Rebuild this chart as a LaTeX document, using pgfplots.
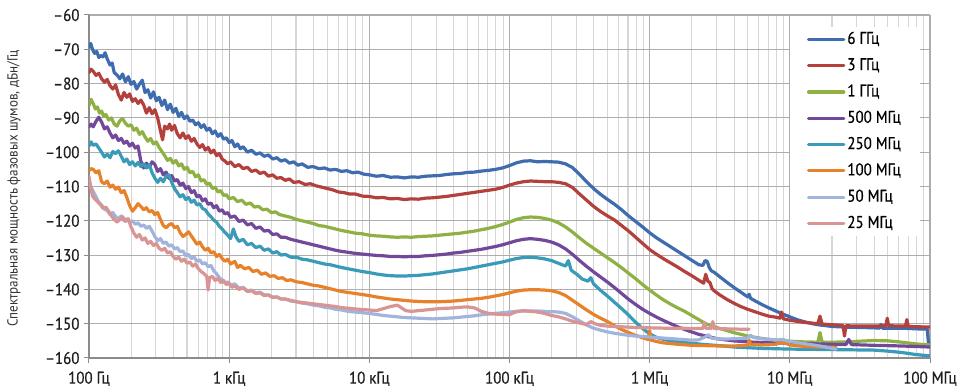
\documentclass[border=0pt]{standalone}
\usepackage{fontspec}
\setmainfont{PT Sans}[FakeStretch=0.9]
\newfontfamily\dinfont{PT Sans}[FakeStretch=0.88, FakeBold=0.6]
\usepackage{pgfplots}
\pgfplotsset{compat=1.18}
\definecolor{cBlue}{HTML}{3F6CAF}
\definecolor{cRed}{HTML}{B3403C}
\definecolor{cGreen}{HTML}{8FB043}
\definecolor{cPurple}{HTML}{71489A}
\definecolor{cTeal}{HTML}{3A9BB8}
\definecolor{cOrange}{HTML}{E8822A}
\definecolor{cLav}{HTML}{A0B4DD}
\definecolor{cPink}{HTML}{D89594}
\begin{document}
\begin{tikzpicture}
\useasboundingbox (-89pt,-32pt) rectangle (872pt,358pt);
\begin{axis}[
  scale only axis, width=841pt, height=343pt,
  xmin=2, xmax=8, ymin=-160, ymax=-60,
  xtick={2,3,4,5,6,7,8},
  xticklabels={100 Гц,1 кГц,10 кГц,100 кГц,1 МГц,10 МГц,100 МГц},
  minor xtick={2.30103,2.47712,2.60206,2.69897,2.77815,2.84510,2.90309,2.95424,
    3.30103,3.47712,3.60206,3.69897,3.77815,3.84510,3.90309,3.95424,
    4.30103,4.47712,4.60206,4.69897,4.77815,4.84510,4.90309,4.95424,
    5.30103,5.47712,5.60206,5.69897,5.77815,5.84510,5.90309,5.95424,
    6.30103,6.47712,6.60206,6.69897,6.77815,6.84510,6.90309,6.95424,
    7.30103,7.47712,7.60206,7.69897,7.77815,7.84510,7.90309,7.95424},
  ytick={-160,-150,-140,-130,-120,-110,-100,-90,-80,-70,-60},
  yticklabels={–160,–150,–140,–130,–120,–110,–100,–90,–80,–70,–60},
  xmajorgrids, xminorgrids, ymajorgrids,
  major grid style={draw=black!32, line width=1.1pt},
  minor grid style={draw=black!16, line width=1.1pt},
  axis x line*=bottom, axis y line*=left,
  axis line style={draw=black!45, line width=1.2pt},
  tick align=outside, major tick length=5pt, minor tick length=0pt,
  tick style={draw=black!45, line width=1pt},
  tick label style={font=\dinfont\fontsize{17}{17}\selectfont, text=black!88},
  xticklabel style={yshift=-5pt},
  yticklabel style={xshift=-1pt},
  ylabel={Спектральная мощность фазовых шумов, дБн/Гц},
  ylabel style={at={(rel axis cs:-0.0892,0.494)}, anchor=center, font=\fontsize{14.5}{15}\selectfont, text=black!80},
  legend style={at={(rel axis cs:0.8335,0.966)}, anchor=north west, draw=none, fill=white,
    font=\dinfont\fontsize{17}{17}\selectfont, inner xsep=17pt, inner ysep=3pt, row sep=7.3pt,
    nodes={text height=12pt, text depth=3pt, inner sep=2pt}},
  legend cell align=left,
  legend image code/.code={\draw (0pt,0pt) -- (27pt,0pt); \path (0pt,0pt) -- (35pt,0pt);},
  every axis plot/.append style={line width=3.2pt, line join=round, line cap=round},
]
% 6 GHz
\addplot[cBlue] coordinates {
(2.000,-69.5)(2.012,-68.3)(2.025,-70.0)(2.040,-71.2)(2.055,-70.6)(2.070,-72.4)(2.085,-71.8)(2.100,-72.2)(2.115,-71.0)(2.130,-72.8)
(2.150,-74.6)(2.165,-74.0)(2.180,-76.8)(2.200,-77.5)(2.220,-78.6)(2.240,-77.2)(2.260,-79.5)(2.280,-78.0)(2.300,-80.2)(2.320,-79.4)
(2.340,-81.6)(2.360,-80.2)(2.380,-79.0)(2.400,-82.6)(2.420,-81.8)(2.440,-84.2)(2.460,-82.4)(2.480,-85.0)(2.500,-84.0)(2.520,-86.4)
(2.540,-84.8)(2.560,-87.6)(2.580,-86.0)(2.600,-88.4)(2.620,-87.2)(2.640,-89.6)(2.660,-88.4)(2.680,-90.2)(2.700,-89.4)(2.720,-91.0)
(2.740,-90.6)(2.760,-92.0)(2.780,-91.4)(2.800,-92.8)(2.820,-92.0)(2.840,-93.6)(2.860,-93.0)(2.880,-94.6)(2.900,-93.8)(2.920,-95.4)
(2.940,-94.6)(2.960,-96.2)(2.980,-95.8)(3.000,-97.2)(3.020,-96.6)(3.040,-98.4)(3.060,-97.6)(3.080,-99.0)(3.100,-98.4)(3.130,-100.0)
(3.160,-99.4)(3.190,-100.6)(3.220,-100.2)(3.250,-101.2)(3.280,-100.8)(3.310,-102.0)(3.340,-101.6)(3.370,-102.6)(3.400,-102.2)(3.430,-103.2)
(3.460,-102.8)(3.490,-103.8)(3.520,-103.4)(3.560,-104.4)(3.600,-104.2)(3.640,-104.8)(3.680,-104.6)(3.720,-105.2)(3.760,-105.0)(3.800,-105.6)
(3.840,-105.4)(3.880,-106.0)(3.920,-105.8)(3.960,-106.4)(4.000,-106.6)(4.050,-107.0)(4.100,-106.8)(4.150,-107.3)(4.200,-107.2)(4.250,-107.5)
(4.300,-107.2)(4.350,-107.3)(4.400,-107.0)(4.450,-106.9)(4.500,-106.8)(4.550,-106.5)(4.600,-106.3)(4.650,-106.2)(4.700,-105.9)(4.750,-105.8)
(4.800,-105.5)(4.850,-105.3)(4.900,-105.0)(4.950,-104.6)(5.000,-103.9)(5.050,-103.1)(5.100,-102.6)(5.150,-102.5)(5.200,-102.8)(5.250,-102.7)
(5.300,-102.8)(5.350,-102.9)(5.400,-103.4)(5.450,-104.5)(5.500,-106.5)(5.550,-108.6)(5.600,-110.6)(5.650,-112.3)(5.700,-113.8)(5.750,-115.2)
(5.800,-116.8)(5.850,-118.6)(5.900,-120.2)(5.950,-121.8)(6.000,-123.5)(6.050,-125.0)(6.100,-126.3)(6.150,-127.6)(6.200,-128.9)(6.250,-130.2)
(6.300,-131.5)(6.350,-132.8)(6.380,-133.0)(6.395,-131.6)(6.410,-131.8)(6.425,-133.6)(6.440,-134.6)(6.460,-135.0)(6.500,-136.3)(6.550,-137.9)
(6.600,-139.4)(6.650,-140.8)(6.700,-142.2)(6.710,-141.4)(6.720,-142.6)(6.750,-143.3)(6.800,-144.4)(6.850,-145.4)(6.900,-146.3)(6.950,-147.2)
(7.000,-148.0)(7.050,-148.8)(7.100,-149.4)(7.150,-149.9)(7.200,-150.3)(7.300,-150.8)(7.400,-151.0)(7.500,-151.1)(7.600,-151.2)(7.640,-151.3)
(7.650,-150.2)(7.660,-151.3)(7.800,-151.3)(7.900,-151.5)(7.980,-151.6)(7.990,-156.0)(8.000,-156.0)};
% 3 GHz
\addplot[cRed] coordinates {
(2.000,-76.8)(2.015,-75.8)(2.030,-76.4)(2.050,-77.6)(2.070,-77.0)(2.090,-78.6)(2.110,-79.6)(2.130,-78.8)(2.150,-80.6)(2.170,-81.6)
(2.190,-80.4)(2.210,-83.2)(2.230,-84.8)(2.250,-82.6)(2.270,-84.0)(2.290,-83.0)(2.310,-85.2)(2.330,-84.4)(2.350,-85.8)(2.370,-84.8)
(2.390,-86.2)(2.410,-88.6)(2.430,-87.0)(2.450,-88.8)(2.470,-87.6)(2.490,-90.0)(2.510,-93.8)(2.525,-96.4)(2.540,-92.4)(2.560,-93.2)(2.575,-91.8)
(2.590,-93.6)(2.610,-92.2)(2.630,-94.6)(2.650,-95.8)(2.670,-94.4)(2.690,-96.0)(2.710,-95.2)(2.730,-96.8)(2.750,-96.0)(2.770,-97.6)
(2.790,-98.6)(2.810,-97.8)(2.830,-99.4)(2.850,-98.6)(2.870,-100.2)(2.890,-99.4)(2.910,-101.0)(2.930,-100.4)(2.950,-102.0)(2.970,-102.6)
(2.990,-103.4)(3.010,-102.8)(3.040,-104.2)(3.070,-103.6)(3.100,-104.8)(3.130,-104.4)(3.160,-105.6)(3.190,-105.2)(3.220,-106.2)(3.250,-105.8)
(3.280,-107.0)(3.310,-106.6)(3.340,-107.6)(3.370,-107.4)(3.400,-108.2)(3.430,-107.8)(3.460,-108.8)(3.500,-108.6)(3.540,-109.4)(3.580,-109.2)
(3.620,-109.8)(3.660,-110.2)(3.700,-110.6)(3.740,-111.0)(3.780,-111.6)(3.820,-111.8)(3.860,-112.2)(3.900,-112.2)(3.950,-112.8)(4.000,-112.9)
(4.050,-113.3)(4.100,-113.2)(4.150,-113.6)(4.200,-113.5)(4.250,-113.8)(4.300,-113.6)(4.350,-113.7)(4.400,-113.4)(4.450,-113.3)(4.500,-113.1)
(4.550,-112.9)(4.600,-112.6)(4.650,-112.3)(4.700,-112.0)(4.750,-111.7)(4.800,-111.4)(4.850,-111.1)(4.900,-110.8)(4.950,-110.3)(5.000,-109.6)
(5.050,-109.0)(5.100,-108.6)(5.150,-108.4)(5.200,-108.5)(5.250,-108.6)(5.300,-108.6)(5.350,-108.8)(5.400,-109.2)(5.450,-110.3)(5.500,-112.2)
(5.550,-114.0)(5.600,-115.8)(5.650,-117.3)(5.700,-118.6)(5.750,-119.8)(5.800,-121.4)(5.850,-123.0)(5.900,-124.8)(5.950,-126.6)(6.000,-128.4)
(6.050,-129.8)(6.100,-131.1)(6.150,-132.3)(6.200,-133.5)(6.250,-134.8)(6.300,-136.0)(6.350,-137.3)(6.385,-138.2)(6.400,-135.6)(6.415,-137.6)
(6.430,-138.0)(6.445,-139.8)(6.460,-140.4)(6.500,-141.6)(6.550,-142.9)(6.600,-144.0)(6.650,-145.0)(6.700,-145.8)(6.750,-146.5)(6.800,-147.2)
(6.850,-147.8)(6.900,-148.1)(6.930,-148.4)(6.940,-146.6)(6.955,-148.6)(7.000,-149.0)(7.100,-149.6)(7.200,-150.0)(7.215,-147.8)(7.230,-150.1)
(7.300,-150.3)(7.380,-150.5)(7.390,-153.6)(7.400,-150.6)(7.500,-150.7)(7.600,-150.7)(7.685,-150.6)(7.695,-148.4)(7.705,-150.6)(7.825,-150.7)
(7.835,-148.8)(7.845,-150.8)(8.000,-151.0)};
% 1 GHz
\addplot[cGreen] coordinates {
(2.000,-86.4)(2.015,-84.6)(2.030,-85.8)(2.045,-87.4)(2.060,-86.8)(2.075,-88.6)(2.090,-88.0)(2.105,-89.6)(2.120,-89.0)(2.140,-90.6)
(2.160,-90.0)(2.180,-91.8)(2.200,-92.4)(2.220,-90.8)(2.240,-90.2)(2.260,-91.6)(2.280,-92.4)(2.300,-92.0)(2.320,-93.6)(2.340,-93.0)
(2.360,-94.8)(2.380,-94.0)(2.400,-95.6)(2.420,-96.8)(2.440,-96.0)(2.460,-97.6)(2.480,-97.0)(2.500,-98.6)(2.520,-99.8)(2.540,-101.0)
(2.560,-102.4)(2.580,-101.8)(2.600,-103.2)(2.620,-102.4)(2.640,-104.0)(2.660,-103.4)(2.680,-105.0)(2.700,-104.4)(2.720,-106.0)(2.740,-105.6)
(2.760,-107.2)(2.780,-106.6)(2.800,-108.4)(2.820,-108.0)(2.840,-109.4)(2.860,-109.0)(2.880,-110.6)(2.900,-110.2)(2.920,-111.6)(2.940,-111.2)
(2.960,-112.6)(2.980,-112.4)(3.000,-113.6)(3.030,-113.2)(3.060,-114.4)(3.090,-114.0)(3.120,-115.2)(3.150,-114.8)(3.180,-116.0)(3.210,-115.8)
(3.240,-116.8)(3.270,-116.6)(3.300,-117.6)(3.330,-117.4)(3.360,-118.2)(3.400,-118.6)(3.440,-119.0)(3.480,-119.6)(3.520,-120.0)(3.560,-120.4)
(3.600,-120.8)(3.640,-121.4)(3.680,-121.6)(3.720,-122.0)(3.760,-122.4)(3.800,-122.8)(3.850,-123.2)(3.900,-123.6)(3.950,-123.8)(4.000,-124.2)
(4.050,-124.4)(4.100,-124.5)(4.150,-124.7)(4.200,-124.8)(4.250,-124.7)(4.300,-124.8)(4.350,-124.6)(4.400,-124.5)(4.450,-124.4)(4.500,-124.2)
(4.550,-124.0)(4.600,-123.8)(4.650,-123.6)(4.700,-123.3)(4.750,-123.0)(4.800,-122.6)(4.850,-122.2)(4.900,-121.7)(4.950,-121.1)(5.000,-120.4)
(5.050,-119.6)(5.100,-119.1)(5.150,-118.9)(5.200,-119.0)(5.250,-119.3)(5.300,-119.8)(5.350,-120.6)(5.400,-121.8)(5.450,-123.3)(5.500,-125.0)
(5.550,-126.6)(5.600,-128.0)(5.650,-129.4)(5.700,-130.8)(5.750,-132.2)(5.800,-133.7)(5.850,-135.3)(5.900,-136.9)(5.950,-138.6)(6.000,-140.2)
(6.050,-141.7)(6.100,-143.1)(6.150,-144.3)(6.200,-145.4)(6.250,-146.4)(6.300,-147.6)(6.350,-148.8)(6.400,-150.0)(6.500,-151.4)(6.600,-152.6)
(6.700,-153.6)(6.800,-154.3)(6.900,-154.8)(7.000,-155.1)(7.100,-155.3)(7.200,-155.4)(7.215,-152.6)(7.230,-155.4)(7.300,-155.4)(7.400,-155.3)
(7.500,-155.1)(7.600,-154.9)(7.700,-155.0)(7.800,-155.4)(7.900,-155.9)(8.000,-156.2)};
% 500 MHz
\addplot[cPurple] coordinates {
(2.000,-92.6)(2.015,-91.8)(2.030,-92.6)(2.050,-91.0)(2.070,-89.8)(2.090,-91.2)(2.110,-93.2)(2.130,-92.6)(2.150,-94.4)(2.170,-95.8)
(2.190,-95.0)(2.210,-96.6)(2.230,-96.0)(2.250,-97.4)(2.270,-96.8)(2.290,-98.2)(2.310,-97.4)(2.330,-98.8)(2.350,-98.2)(2.370,-102.6)
(2.390,-104.6)(2.410,-103.2)(2.430,-104.4)(2.450,-102.8)(2.470,-103.6)(2.490,-105.6)(2.510,-104.8)(2.530,-106.6)(2.550,-105.8)(2.570,-107.6)
(2.590,-106.8)(2.610,-108.4)(2.630,-108.0)(2.650,-109.6)(2.670,-109.0)(2.690,-110.6)(2.710,-110.0)(2.730,-111.8)(2.750,-111.2)(2.770,-113.0)
(2.790,-112.6)(2.810,-114.2)(2.830,-113.6)(2.850,-115.2)(2.870,-114.8)(2.890,-116.2)(2.910,-115.6)(2.930,-117.2)(2.950,-116.8)(2.970,-118.0)
(2.990,-117.6)(3.010,-119.0)(3.040,-118.6)(3.070,-120.2)(3.100,-119.8)(3.130,-121.2)(3.160,-120.8)(3.190,-122.2)(3.220,-121.8)(3.250,-123.0)
(3.280,-122.8)(3.310,-124.0)(3.340,-123.8)(3.370,-124.8)(3.400,-124.8)(3.440,-125.4)(3.480,-125.8)(3.520,-126.2)(3.560,-126.6)(3.600,-127.0)
(3.640,-127.4)(3.680,-127.8)(3.720,-128.2)(3.760,-128.6)(3.800,-128.9)(3.850,-129.2)(3.900,-129.5)(3.950,-129.7)(4.000,-129.9)(4.050,-130.1)
(4.100,-130.2)(4.150,-130.4)(4.200,-130.4)(4.250,-130.5)(4.300,-130.4)(4.350,-130.4)(4.400,-130.2)(4.450,-130.1)(4.500,-129.9)(4.550,-129.7)
(4.600,-129.4)(4.650,-129.2)(4.700,-128.9)(4.750,-128.6)(4.800,-128.3)(4.850,-127.9)(4.900,-127.5)(4.950,-127.0)(5.000,-126.4)(5.050,-125.8)
(5.100,-125.4)(5.150,-125.2)(5.200,-125.4)(5.250,-125.7)(5.300,-126.2)(5.350,-127.0)(5.400,-128.2)(5.450,-129.8)(5.500,-131.6)(5.550,-133.3)
(5.600,-134.9)(5.650,-136.4)(5.700,-137.9)(5.750,-139.5)(5.800,-141.2)(5.850,-142.9)(5.900,-144.4)(5.950,-145.8)(6.000,-147.0)(6.050,-148.1)
(6.100,-149.1)(6.150,-150.0)(6.200,-150.9)(6.250,-151.7)(6.300,-152.4)(6.350,-153.1)(6.400,-153.6)(6.450,-154.1)(6.500,-154.5)(6.600,-155.0)
(6.700,-155.3)(6.800,-155.5)(6.900,-155.6)(7.000,-155.7)(7.100,-155.8)(7.200,-155.9)(7.300,-156.0)(7.400,-156.1)(7.420,-154.6)(7.440,-156.1)
(7.600,-156.3)(7.800,-156.5)(8.000,-156.8)};
% 250 MHz
\addplot[cTeal] coordinates {
(2.000,-98.2)(2.015,-97.0)(2.030,-98.0)(2.050,-97.6)(2.070,-98.8)(2.090,-100.0)(2.110,-101.4)(2.130,-100.6)(2.150,-101.6)(2.170,-99.8)
(2.190,-100.4)(2.210,-99.6)(2.230,-101.2)(2.250,-102.8)(2.270,-102.0)(2.290,-103.6)(2.310,-102.8)(2.330,-104.0)(2.350,-103.0)(2.370,-104.2)
(2.390,-103.4)(2.410,-104.6)(2.430,-103.6)(2.450,-106.0)(2.470,-107.6)(2.490,-108.8)(2.510,-107.6)(2.530,-108.6)(2.550,-107.0)(2.570,-106.6)
(2.590,-108.8)(2.610,-110.6)(2.630,-111.8)(2.650,-113.0)(2.670,-112.4)(2.690,-113.8)(2.710,-113.2)(2.730,-114.6)(2.750,-114.0)(2.770,-115.4)
(2.790,-115.0)(2.810,-116.4)(2.830,-116.8)(2.850,-118.0)(2.870,-118.8)(2.890,-119.8)(2.910,-120.4)(2.930,-121.6)(2.950,-122.4)(2.970,-123.4)
(2.990,-124.2)(3.010,-125.2)(3.030,-122.4)(3.050,-124.8)(3.070,-126.0)(3.100,-125.4)(3.130,-127.0)(3.160,-126.6)(3.190,-127.8)(3.220,-127.4)
(3.250,-128.6)(3.280,-128.2)(3.310,-129.4)(3.340,-129.0)(3.370,-130.0)(3.400,-129.8)(3.440,-130.6)(3.480,-130.6)(3.520,-131.2)(3.560,-131.4)
(3.600,-131.8)(3.640,-132.2)(3.680,-132.6)(3.720,-132.8)(3.760,-133.2)(3.800,-133.6)(3.850,-134.0)(3.900,-134.4)(3.950,-134.8)(4.000,-135.1)
(4.050,-135.5)(4.100,-135.8)(4.150,-136.0)(4.200,-136.1)(4.250,-136.1)(4.300,-136.0)(4.350,-135.9)(4.400,-135.7)(4.450,-135.5)(4.500,-135.2)
(4.550,-134.9)(4.600,-134.6)(4.650,-134.3)(4.700,-134.0)(4.750,-133.6)(4.800,-133.2)(4.850,-132.8)(4.900,-132.4)(4.950,-132.0)(5.000,-131.5)
(5.050,-131.0)(5.100,-130.7)(5.150,-130.6)(5.200,-130.8)(5.250,-131.1)(5.300,-131.6)(5.350,-132.4)(5.400,-133.2)(5.420,-131.6)(5.440,-134.4)
(5.480,-135.6)(5.520,-137.0)(5.560,-137.6)(5.580,-136.6)(5.600,-138.4)(5.650,-140.3)(5.700,-142.0)(5.750,-143.8)(5.800,-145.6)(5.850,-147.5)
(5.900,-149.6)(5.950,-151.4)(6.000,-153.0)(6.050,-154.0)(6.100,-154.6)(6.150,-155.0)(6.200,-155.3)(6.300,-155.7)(6.400,-156.1)(6.500,-156.4)
(6.600,-156.8)(6.700,-157.0)(6.800,-157.2)(6.900,-157.3)(7.000,-157.4)(7.200,-157.5)(7.400,-157.6)(7.600,-157.7)(7.700,-158.0)(7.800,-158.4)
(7.900,-159.0)(8.000,-159.4)};
% 100 MHz
\addplot[cOrange] coordinates {
(2.000,-105.4)(2.015,-104.8)(2.030,-105.0)(2.050,-106.0)(2.070,-105.4)(2.090,-108.6)(2.110,-109.2)(2.130,-108.4)(2.150,-110.2)(2.170,-109.6)
(2.190,-110.8)(2.210,-110.2)(2.230,-111.8)(2.250,-111.2)(2.270,-113.2)(2.290,-115.6)(2.310,-117.2)(2.330,-116.2)(2.350,-115.0)(2.370,-115.8)
(2.390,-116.8)(2.410,-116.2)(2.430,-117.4)(2.450,-117.0)(2.470,-118.2)(2.490,-117.6)(2.510,-119.6)(2.530,-121.4)(2.550,-122.0)(2.570,-121.2)
(2.590,-120.8)(2.610,-122.0)(2.630,-121.6)(2.650,-123.4)(2.670,-124.6)(2.690,-124.0)(2.710,-123.2)(2.730,-124.4)(2.750,-125.6)(2.770,-126.8)
(2.790,-126.2)(2.810,-127.6)(2.830,-128.6)(2.850,-128.0)(2.870,-129.4)(2.890,-129.0)(2.910,-130.4)(2.930,-129.8)(2.950,-131.0)(2.970,-131.8)
(2.990,-131.2)(3.010,-132.6)(3.040,-131.8)(3.060,-133.6)(3.080,-133.0)(3.110,-134.0)(3.140,-133.6)(3.170,-134.8)(3.200,-134.4)(3.230,-135.6)
(3.260,-135.2)(3.290,-136.2)(3.320,-136.0)(3.350,-136.8)(3.380,-136.6)(3.410,-137.4)(3.440,-137.2)(3.480,-137.8)(3.520,-138.0)(3.560,-138.4)
(3.600,-138.8)(3.640,-139.0)(3.680,-139.4)(3.720,-139.8)(3.760,-140.2)(3.800,-140.6)(3.850,-140.9)(3.900,-141.2)(3.950,-141.5)(4.000,-141.8)
(4.050,-142.2)(4.100,-142.5)(4.150,-142.8)(4.200,-143.0)(4.250,-143.2)(4.300,-143.4)(4.350,-143.5)(4.400,-143.6)(4.450,-143.6)(4.500,-143.6)
(4.550,-143.5)(4.600,-143.4)(4.650,-143.2)(4.700,-143.0)(4.750,-142.8)(4.800,-142.6)(4.850,-142.3)(4.900,-141.9)(4.950,-141.5)(5.000,-141.0)
(5.050,-140.5)(5.100,-140.2)(5.150,-140.1)(5.200,-140.1)(5.250,-140.2)(5.300,-140.4)(5.350,-140.9)(5.400,-141.8)(5.450,-143.2)(5.500,-144.6)
(5.550,-146.0)(5.600,-147.3)(5.650,-148.4)(5.700,-149.4)(5.750,-150.6)(5.800,-151.7)(5.850,-152.6)(5.900,-153.4)(5.950,-154.1)(5.990,-154.6)
(6.000,-152.0)(6.010,-154.8)(6.050,-155.2)(6.100,-155.6)(6.200,-156.0)(6.300,-156.3)(6.400,-156.4)(6.500,-156.5)(6.600,-156.5)(6.700,-156.3)
(6.710,-154.8)(6.720,-156.0)(6.800,-156.2)(6.900,-156.0)(6.950,-155.4)(7.000,-156.2)(7.100,-156.6)(7.200,-156.8)(7.330,-156.9)};
% 50 MHz
\addplot[cLav] coordinates {
(2.000,-108.4)(2.015,-110.2)(2.030,-111.4)(2.050,-113.0)(2.070,-114.6)(2.090,-115.4)(2.110,-116.6)(2.130,-117.0)(2.150,-118.2)(2.170,-117.6)
(2.190,-118.8)(2.210,-119.4)(2.230,-118.6)(2.250,-120.0)(2.270,-119.4)(2.290,-120.4)(2.310,-120.0)(2.330,-121.0)(2.350,-120.6)(2.370,-121.6)
(2.390,-121.2)(2.410,-122.2)(2.430,-121.6)(2.450,-123.0)(2.470,-124.6)(2.490,-125.8)(2.510,-125.2)(2.530,-126.6)(2.550,-126.2)(2.570,-127.4)
(2.590,-127.0)(2.610,-128.2)(2.630,-127.8)(2.650,-129.0)(2.670,-128.8)(2.690,-130.2)(2.710,-129.8)(2.730,-131.0)(2.750,-130.6)(2.770,-131.8)
(2.790,-131.4)(2.810,-132.6)(2.830,-132.2)(2.850,-133.4)(2.870,-133.0)(2.890,-134.6)(2.910,-135.4)(2.930,-136.6)(2.950,-137.2)(2.970,-138.2)
(2.990,-137.8)(3.010,-138.8)(3.040,-138.4)(3.070,-139.6)(3.100,-139.4)(3.130,-140.4)(3.160,-140.2)(3.190,-141.0)(3.220,-140.8)(3.250,-141.6)
(3.280,-141.6)(3.310,-142.2)(3.340,-142.2)(3.370,-142.8)(3.400,-142.8)(3.440,-143.4)(3.480,-143.6)(3.520,-144.0)(3.560,-144.2)(3.600,-144.6)
(3.640,-144.8)(3.680,-145.2)(3.720,-145.4)(3.760,-145.8)(3.800,-146.0)(3.850,-146.4)(3.900,-146.6)(3.950,-146.8)(4.000,-147.0)(4.050,-147.3)
(4.100,-147.6)(4.150,-147.8)(4.200,-148.0)(4.250,-148.2)(4.300,-148.3)(4.350,-148.4)(4.400,-148.5)(4.450,-148.6)(4.500,-148.5)(4.550,-148.4)
(4.600,-148.3)(4.650,-148.1)(4.700,-147.9)(4.750,-147.7)(4.800,-147.4)(4.850,-147.2)(4.900,-147.0)(4.950,-146.8)(5.000,-146.6)(5.050,-146.4)
(5.100,-146.3)(5.150,-146.3)(5.200,-146.3)(5.250,-146.4)(5.300,-146.5)(5.350,-146.6)(5.400,-147.0)(5.450,-148.0)(5.500,-149.2)(5.550,-150.4)
(5.600,-151.3)(5.650,-151.9)(5.700,-152.4)(5.750,-152.8)(5.800,-153.1)(5.850,-153.4)(5.900,-153.6)(6.000,-153.9)(6.100,-154.2)(6.200,-154.5)
(6.300,-154.8)(6.350,-154.7)(6.400,-153.8)(6.420,-153.2)(6.440,-154.2)(6.500,-154.5)(6.600,-154.4)(6.700,-154.2)(6.720,-153.4)(6.740,-154.0)
(6.800,-154.4)(6.900,-154.8)(6.950,-154.6)(7.000,-155.2)(7.100,-155.8)(7.200,-156.4)(7.330,-157.4)};
% 25 MHz
\addplot[cPink] coordinates {
(2.000,-107.0)(2.010,-109.6)(2.025,-112.8)(2.040,-113.6)(2.060,-114.4)(2.080,-115.2)(2.100,-116.4)(2.120,-116.0)(2.140,-117.2)(2.160,-118.6)
(2.180,-119.6)(2.200,-120.4)(2.220,-119.6)(2.240,-118.8)(2.260,-120.2)(2.280,-119.4)(2.300,-121.8)(2.320,-123.6)(2.340,-124.8)(2.360,-124.0)
(2.380,-125.6)(2.400,-125.0)(2.420,-126.6)(2.440,-126.0)(2.460,-127.2)(2.480,-126.6)(2.500,-128.0)(2.520,-128.6)(2.540,-128.0)(2.560,-129.4)
(2.580,-129.0)(2.600,-130.4)(2.620,-131.2)(2.640,-130.6)(2.660,-131.8)(2.680,-131.2)(2.700,-132.4)(2.720,-132.0)(2.740,-133.2)(2.760,-132.6)
(2.780,-134.0)(2.800,-134.8)(2.820,-135.4)(2.840,-136.2)(2.850,-140.2)(2.860,-136.6)(2.880,-136.2)(2.900,-137.4)(2.920,-136.8)(2.940,-138.0)
(2.960,-137.4)(2.980,-138.6)(3.000,-138.2)(3.020,-139.4)(3.040,-139.0)(3.070,-140.0)(3.100,-139.6)(3.130,-140.6)(3.160,-140.4)(3.190,-141.2)
(3.220,-141.0)(3.250,-141.8)(3.280,-141.6)(3.310,-142.4)(3.340,-142.2)(3.370,-142.8)(3.400,-142.8)(3.440,-143.2)(3.480,-143.6)(3.520,-143.8)
(3.560,-144.0)(3.600,-144.2)(3.640,-144.4)(3.680,-144.6)(3.720,-144.8)(3.760,-145.0)(3.800,-145.3)(3.850,-145.5)(3.900,-145.7)(3.950,-145.9)
(4.000,-146.0)(4.050,-146.2)(4.100,-145.6)(4.150,-145.0)(4.200,-144.6)(4.230,-145.4)(4.260,-146.2)(4.300,-146.4)(4.350,-146.2)(4.400,-146.0)
(4.450,-145.8)(4.500,-145.6)(4.550,-145.5)(4.600,-145.4)(4.650,-145.2)(4.700,-145.1)(4.750,-145.4)(4.800,-146.4)(4.850,-147.0)(4.900,-147.2)
(4.950,-147.3)(5.000,-147.4)(5.030,-146.8)(5.060,-146.4)(5.100,-146.2)(5.150,-146.4)(5.200,-146.6)(5.250,-147.0)(5.300,-147.6)(5.350,-148.0)
(5.400,-148.6)(5.450,-149.3)(5.500,-149.8)(5.550,-150.2)(5.580,-149.4)(5.610,-150.0)(5.650,-150.5)(5.700,-150.7)(5.800,-150.9)(5.900,-151.1)
(6.000,-151.2)(6.100,-151.3)(6.200,-151.3)(6.300,-151.4)(6.380,-151.4)(6.390,-149.6)(6.400,-151.3)(6.440,-151.4)(6.450,-149.4)(6.460,-151.4)
(6.550,-151.5)(6.650,-151.6)(6.710,-151.6)};
\legend{6 ГГц,3 ГГц,1 ГГц,500 МГц,250 МГц,100 МГц,50 МГц,25 МГц}
\end{axis}
\end{tikzpicture}
\end{document}
